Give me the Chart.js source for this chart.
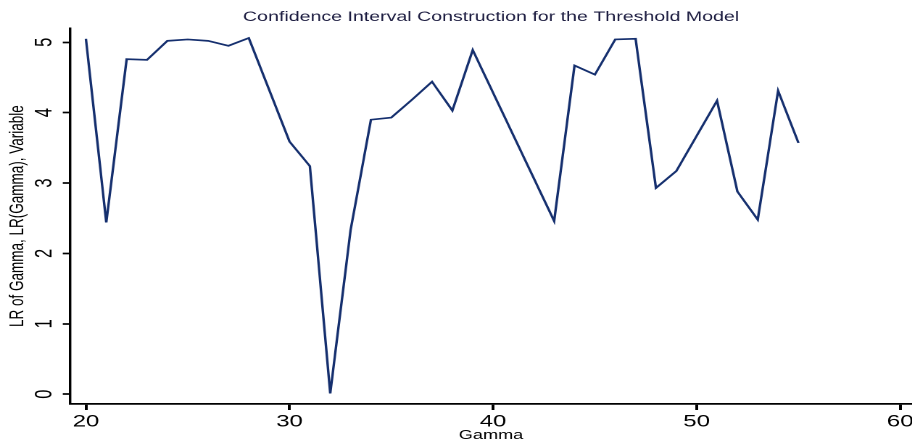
<!DOCTYPE html>
<html>
<head>
<meta charset="utf-8">
<script src="https://cdn.jsdelivr.net/npm/chart.js@4"></script>
<style>
    html, body { margin: 0; padding: 0; background: #fff; overflow: hidden; }
    /* the original graph is stretched sideways, so draw narrow and stretch */
    #wrap { width: 629px; height: 443px; transform: scaleX(1.45); transform-origin: 0 0; }
</style>
</head>
<body>
<div id="wrap"><canvas id="lrChart" width="629" height="443"></canvas></div>
<script>
// Gamma grid points and LR values
const gammaValues = [20, 21, 22, 23, 24, 25, 26, 27, 28, 30, 31, 32, 33, 34, 35, 36,
    37, 38, 39, 43, 44, 45, 46, 47, 48, 49, 51, 52, 53, 54, 55];
const lrValues = [5.05, 2.44, 4.76, 4.75, 5.02, 5.04, 5.02, 4.95, 5.06, 3.59, 3.24, 0.01,
    2.33, 3.90, 3.93, 4.18, 4.44, 4.03, 4.89, 2.46, 4.67, 4.54, 5.04, 5.05, 2.93, 3.17,
    4.17, 2.88, 2.48, 4.31, 3.57];
const xTicks = [20, 30, 40, 50, 60];
const yTicks = [0, 1, 2, 3, 4, 5];

const fontFamily = "'Liberation Sans', Arial, sans-serif";
const lineColor = '#152f6e';

document.addEventListener("DOMContentLoaded", function () {
    let canvas = document.getElementById("lrChart");

    let points = gammaValues.map((g, i) => ({ x: g, y: lrValues[i] }));

    new Chart(canvas, {
        type: 'line',
        data: {
            datasets: [{
                label: 'LR of Gamma',
                data: points,
                borderColor: lineColor,
                backgroundColor: lineColor,
                borderWidth: 1.7,
                pointRadius: 0,
                tension: 0,
                fill: false
            }]
        },
        options: {
            responsive: false,
            devicePixelRatio: 2,
            animation: false,
            layout: { padding: { left: 0, right: 0, top: 0, bottom: 0 } },
            plugins: {
                legend: { display: false },
                tooltip: { enabled: false },
                title: {
                    display: true,
                    fullSize: false,
                    text: 'Confidence Interval Construction for the Threshold Model',
                    color: '#1c1c40',
                    font: { family: fontFamily, size: 13.5, weight: 'normal' },
                    padding: { top: 9, bottom: 3 }
                }
            },
            scales: {
                x: {
                    type: 'linear',
                    min: 19.22,
                    max: 60.58,
                    afterBuildTicks: function (scale) {
                        scale.ticks = xTicks.map(v => ({ value: v }));
                    },
                    afterFit: function (scale) {
                        scale.height = 39;
                        scale.paddingLeft = 0;
                        scale.paddingRight = 0;
                    },
                    border: { display: true, color: '#000', width: 1.7 },
                    grid: {
                        drawOnChartArea: false,
                        drawTicks: true,
                        tickLength: 6,
                        tickWidth: 2,
                        tickColor: '#000'
                    },
                    ticks: {
                        color: '#000',
                        padding: 2,
                        maxRotation: 0,
                        font: { family: fontFamily, size: 16.5 }
                    },
                    title: {
                        display: true,
                        text: 'Gamma',
                        color: '#000',
                        font: { family: fontFamily, size: 12.5 },
                        padding: { top: 0, bottom: 0 }
                    }
                },
                y: {
                    min: -0.14,
                    max: 5.2,
                    afterBuildTicks: function (scale) {
                        scale.ticks = yTicks.map(v => ({ value: v }));
                    },
                    afterFit: function (scale) {
                        scale.width = 48.3;
                        scale.paddingTop = 0;
                        scale.paddingBottom = 0;
                    },
                    border: { display: true, color: '#000', width: 1.7 },
                    grid: {
                        drawOnChartArea: false,
                        drawTicks: true,
                        tickLength: 5,
                        tickWidth: 1.7,
                        tickColor: '#000'
                    },
                    ticks: {
                        color: '#000',
                        minRotation: 90,
                        maxRotation: 90,
                        crossAlign: 'center',
                        padding: 8,
                        font: { family: fontFamily, size: 16.5 }
                    },
                    title: {
                        display: true,
                        text: 'LR of Gamma, LR(Gamma), Variable',
                        color: '#000',
                        font: { family: fontFamily, size: 13.5 },
                        padding: { top: 4, bottom: 0 }
                    }
                }
            }
        }
    });
});
</script>
</body>
</html>
